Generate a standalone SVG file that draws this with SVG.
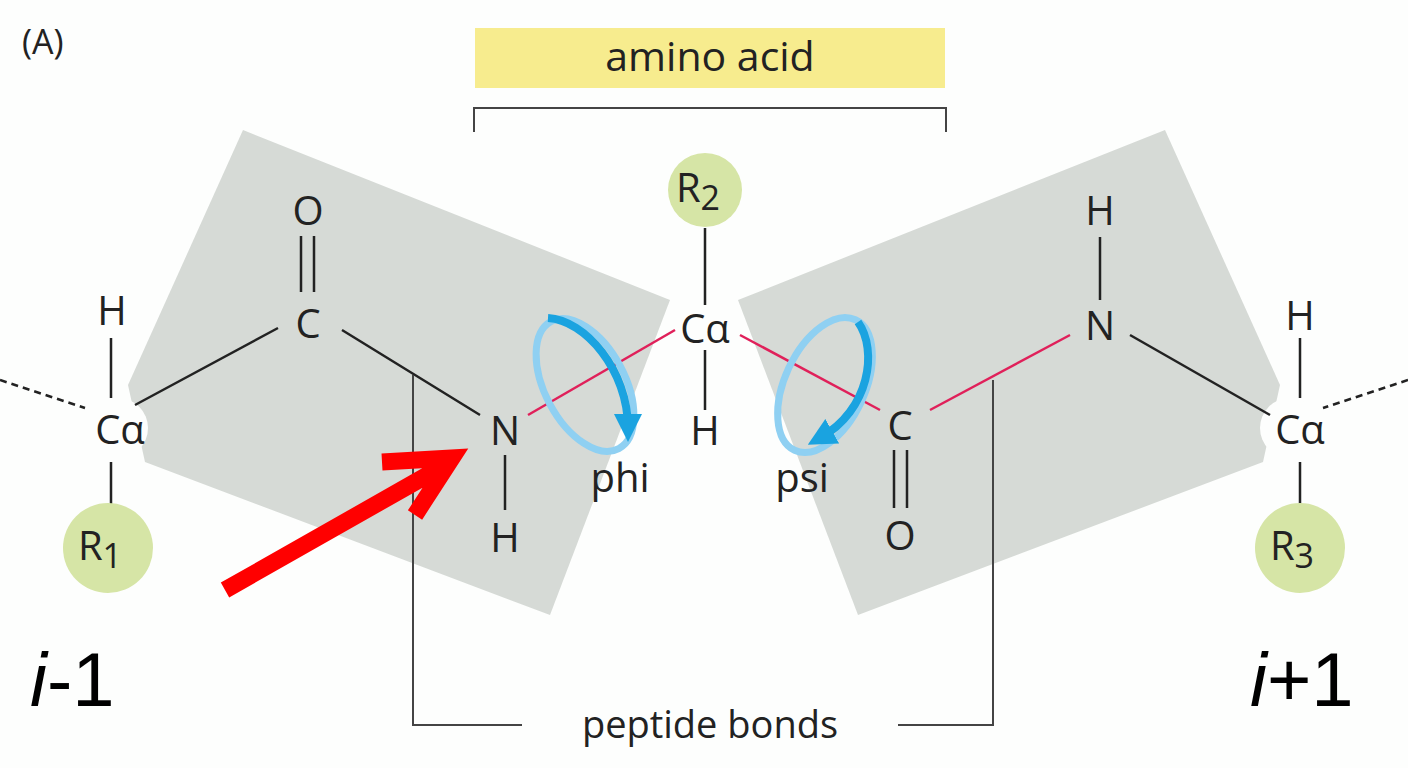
<svg xmlns="http://www.w3.org/2000/svg" width="1408" height="768" viewBox="0 0 1408 768">
<defs>
<style>
.t{font-family:"Open Sans","DejaVu Sans",sans-serif;fill:#222;font-size:40px;text-anchor:middle}
.b{stroke:#222;stroke-width:2.5;fill:none}
.r{stroke:#e0205a;stroke-width:2.5;fill:none}
.g{stroke:#444;stroke-width:2;fill:none}
.plane{fill:#d6dad6}
.rg{fill:#d6e5a6}
.lb{stroke:#8fd0f2;stroke-width:7;fill:none}
.db{stroke:#1aa3e0;stroke-width:8;fill:none}
.big{font-family:"Liberation Sans",sans-serif;font-size:76px;fill:#000}
</style>
<marker id="ah" viewBox="0 0 10 10" refX="5" refY="5" markerWidth="3.5" markerHeight="3.5" orient="auto"><path d="M0,0L10,5L0,10z" fill="#1aa3e0"/></marker>
</defs>
<rect width="1408" height="768" fill="#fdfefd"/>
<g id="planes">
<polygon class="plane" points="243,130 670,300 550,615 145,462 128,385"/>
<polygon class="plane" points="1165,130 738,300 858,615 1263,462 1280,385"/>
<circle cx="700" cy="330" r="32" fill="#fdfefd"/>
<circle cx="118" cy="428" r="30" fill="#fdfefd"/>
<circle cx="1290" cy="428" r="30" fill="#fdfefd"/>
</g>
<g id="header">
<text x="22" y="54" class="t" style="font-size:34px;text-anchor:start">(A)</text>
<rect x="475" y="28" width="470" height="60" fill="#f7ec8e"/>
<text x="710" y="71" class="t" style="font-size:41px">amino acid</text>
<path class="g" d="M474,132V108H946V132"/>
</g>
<g id="connectors">
<path class="b" d="M0,380L85,408" stroke-dasharray="7,5"/>
<path class="b" d="M1408,380L1323,408" stroke-dasharray="7,5"/>
<path class="b" d="M111,338V398M111,462V515"/>
<path class="b" d="M135,405L278,328M342,330L480,415"/>
<path class="b" d="M301,236V292M314,236V292"/>
<path class="b" d="M505,455V510"/>
<path class="r" d="M528,415L675,330"/>
<path class="b" d="M705,228V305M705,350V410"/>
<path class="r" d="M740,335L880,410"/>
<path class="b" d="M894,450V508M907,450V508"/>
<path class="r" d="M930,410L1070,335"/>
<path class="b" d="M1100,237V300"/>
<path class="b" d="M1130,335L1270,415"/>
<path class="b" d="M1300,338V398M1300,462V515"/>
<path class="g" d="M413,375V725H522M898,725H993V380"/>
<text x="710" y="738" class="t" style="font-size:38px">peptide bonds</text>
</g>
<g id="atoms">
<text x="120" y="444" class="t">Cα</text>
<text x="112" y="325" class="t">H</text>
<circle cx="108" cy="548" r="45" class="rg"/>
<text x="100" y="560" class="t">R<tspan font-size="34" dy="8">1</tspan></text>
<text x="308" y="338" class="t">C</text>
<text x="308" y="225" class="t">O</text>
<text x="505" y="445" class="t">N</text>
<text x="505" y="552" class="t">H</text>
<circle cx="705" cy="190" r="37" class="rg"/>
<text x="698" y="202" class="t">R<tspan font-size="34" dy="8">2</tspan></text>
<text x="705" y="343" class="t">Cα</text>
<text x="705" y="445" class="t">H</text>
<text x="900" y="440" class="t">C</text>
<text x="900" y="550" class="t">O</text>
<text x="1100" y="340" class="t">N</text>
<text x="1100" y="225" class="t">H</text>
<text x="1300" y="444" class="t">Cα</text>
<text x="1300" y="330" class="t">H</text>
<circle cx="1300" cy="548" r="45" class="rg"/>
<text x="1292" y="560" class="t">R<tspan font-size="34" dy="8">3</tspan></text>
</g>
<g id="rotations">
<ellipse cx="585" cy="385" rx="40" ry="72" transform="rotate(-28 585 385)" class="lb"/>
<path class="db" d="M548,318C585,320 628,370 628,428" marker-end="url(#ah)"/>
<ellipse cx="825" cy="385" rx="40" ry="72" transform="rotate(25 825 385)" class="lb"/>
<path class="db" d="M858,322C878,350 870,410 820,438" marker-end="url(#ah)"/>
<text x="620" y="492" class="t">phi</text>
<text x="802" y="492" class="t">psi</text>
</g>
<g id="indices">
<text x="30" y="706" class="big"><tspan font-style="italic">i</tspan>-1</text>
<text x="1250" y="706" class="big"><tspan font-style="italic">i</tspan>+1</text>
</g>
<g id="pointer">
<path d="M225,590L440,468M382,462L452,458L415,515" stroke="#f00" stroke-width="17" fill="none" stroke-linejoin="miter"/>
</g>
</svg>
